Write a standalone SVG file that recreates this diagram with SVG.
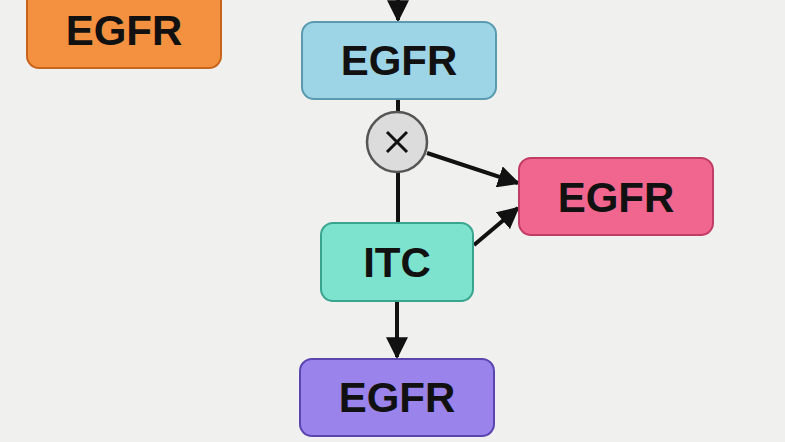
<svg xmlns="http://www.w3.org/2000/svg" width="785" height="442" viewBox="0 0 785 442">
<style>
.box{stroke-width:2}
.lbl{font-family:"Liberation Sans",Arial,sans-serif;font-weight:bold;font-size:42px;fill:#111;text-anchor:middle}
.edge{stroke:#111;stroke-width:4;fill:none}
</style>
<defs>
<marker id="ah" viewBox="0 0 10 10" refX="9" refY="5" markerWidth="5.5" markerHeight="5.5" orient="auto" markerUnits="strokeWidth">
<path d="M0,0 L10,5 L0,10 z" fill="#111"/>
</marker>
</defs>
<rect width="785" height="442" fill="#f0f0ee"/>
<g id="connectors">
<line class="edge" x1="398" y1="0" x2="398" y2="20" marker-end="url(#ah)"/>
<line class="edge" x1="398" y1="99" x2="398" y2="112"/>
<line class="edge" x1="398" y1="172" x2="398" y2="223"/>
<line class="edge" x1="427" y1="153" x2="518" y2="183" marker-end="url(#ah)"/>
<line class="edge" x1="474" y1="245" x2="518" y2="208" marker-end="url(#ah)"/>
<line class="edge" x1="397" y1="301" x2="397" y2="357" marker-end="url(#ah)"/>
</g>
<g id="egfr_orange">
<rect class="box" x="27" y="-12" width="194" height="80" rx="12" fill="#f39140" stroke="#c8651d"/>
<text class="lbl" x="124" y="45">EGFR</text>
</g>
<g id="egfr_blue">
<rect class="box" x="302" y="22" width="194" height="77" rx="12" fill="#9dd4e6" stroke="#5a9bb0"/>
<text class="lbl" x="399" y="75">EGFR</text>
</g>
<g id="multiply">
<circle cx="397" cy="142" r="30" fill="#dcdcdc" stroke="#555" stroke-width="2.5"/>
<path d="M387,132 L407,152 M407,132 L387,152" stroke="#111" stroke-width="3" fill="none"/>
</g>
<g id="egfr_pink">
<rect class="box" x="519" y="158" width="194" height="77" rx="12" fill="#f0668f" stroke="#c23d65"/>
<text class="lbl" x="616" y="212">EGFR</text>
</g>
<g id="itc">
<rect class="box" x="321" y="223" width="152" height="78" rx="12" fill="#7de3cf" stroke="#3aa58e"/>
<text class="lbl" x="397" y="277">ITC</text>
</g>
<g id="egfr_purple">
<rect class="box" x="300" y="359" width="194" height="77" rx="12" fill="#9b83ec" stroke="#5d45b0"/>
<text class="lbl" x="397" y="412">EGFR</text>
</g>
</svg>
